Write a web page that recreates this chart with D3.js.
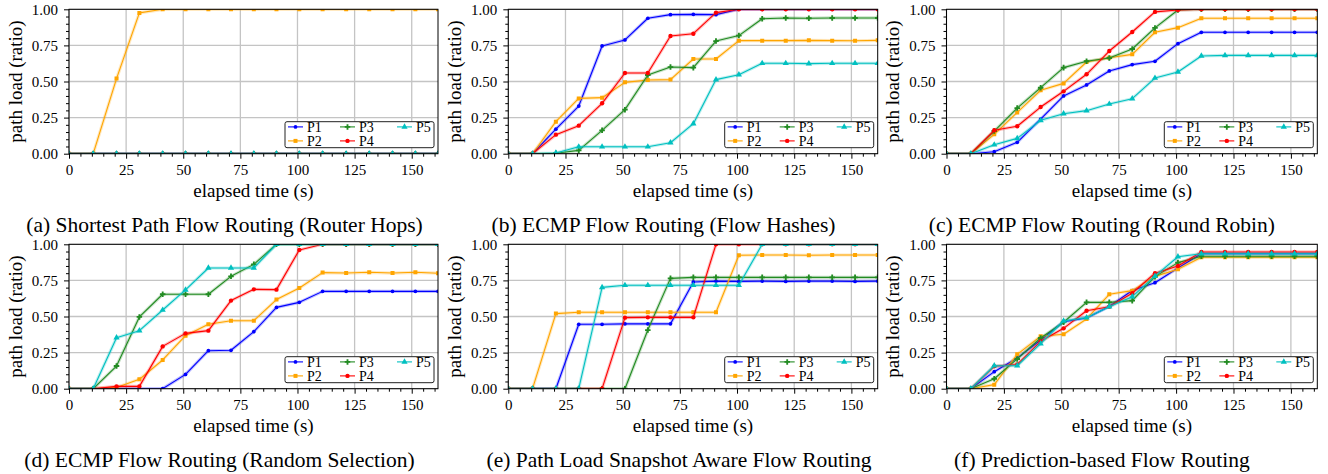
<!DOCTYPE html>
<html><head><meta charset="utf-8">
<script src="https://cdn.jsdelivr.net/npm/d3@7"></script>
<style>
body{margin:0;background:#fff}
svg{display:block}
</style>
</head><body>
<svg id="c" width="1328" height="474"></svg>
<script>
// ---------------- data ----------------
const times = [0, 10.6, 20.8, 30.8, 41.0, 51.0, 61.0, 70.9, 80.9, 90.8, 100.8, 111.0, 121.3, 131.4, 141.6, 151.6, 161.5];
const xTicks = [0, 25, 50, 75, 100, 125, 150];
const yTicks = [0, 0.25, 0.5, 0.75, 1];
const seriesNames = ["P1", "P2", "P3", "P4", "P5"];
const captions = [
  "(a) Shortest Path Flow Routing (Router Hops)",
  "(b) ECMP Flow Routing (Flow Hashes)",
  "(c) ECMP Flow Routing (Round Robin)",
  "(d) ECMP Flow Routing (Random Selection)",
  "(e) Path Load Snapshot Aware Flow Routing",
  "(f) Prediction-based Flow Routing"
];
const xLabel = "elapsed time (s)";
const yLabel = "path load (ratio)";

const loadsA = [
  [0,0,0,0,0,0,0,0,0,0,0,0,0,0,0,0,0],
  [0,0,0.52,0.975,1,1,1,1,1,1,1,1,1,1,1,1,1],
  [0,0,0,0,0,0,0,0,0,0,0,0,0,0,0,0,0],
  [0,0,0,0,0,0,0,0,0,0,0,0,0,0,0,0,0],
  [0,0,0,0,0,0,0,0,0,0,0,0,0,0,0,0,0]
];
const loadsB = [
  [0,0,0.17,0.33,0.746,0.788,0.938,0.963,0.965,0.963,1,1,1,1,1,1,1],
  [0,0,0.222,0.383,0.388,0.494,0.51,0.513,0.656,0.656,0.783,0.783,0.783,0.785,0.783,0.782,0.785],
  [0,0,0.003,0.023,0.162,0.305,0.545,0.60,0.596,0.78,0.818,0.935,0.94,0.938,0.94,0.94,0.94],
  [0,0,0.132,0.194,0.349,0.559,0.559,0.815,0.831,0.977,1,1,1,1,1,1,1],
  [0,0,0.005,0.048,0.048,0.048,0.048,0.076,0.208,0.513,0.547,0.626,0.626,0.624,0.626,0.626,0.626]
];
const loadsC = [
  [0,0,0.014,0.079,0.24,0.40,0.476,0.573,0.617,0.64,0.762,0.841,0.841,0.841,0.841,0.841,0.841],
  [0,0,0.134,0.286,0.439,0.487,0.635,0.665,0.688,0.841,0.873,0.938,0.938,0.938,0.938,0.938,0.938],
  [0,0,0.157,0.316,0.457,0.596,0.64,0.663,0.725,0.871,0.995,1,1,1,1,1,1],
  [0,0,0.162,0.19,0.323,0.432,0.55,0.711,0.843,0.982,0.995,1,1,1,1,1,1],
  [0,0,0.062,0.106,0.231,0.277,0.298,0.344,0.381,0.524,0.566,0.677,0.681,0.681,0.681,0.681,0.681]
];
const loadsD = [
  [0,0,0,0,0,0.099,0.263,0.266,0.395,0.563,0.598,0.674,0.674,0.674,0.674,0.674,0.674],
  [0,0,0.009,0.065,0.199,0.367,0.446,0.471,0.471,0.617,0.697,0.804,0.801,0.806,0.801,0.806,0.80],
  [0,0,0.157,0.497,0.654,0.654,0.654,0.778,0.861,1,1,1,1,1,1,1,1],
  [0,0,0.016,0.016,0.293,0.383,0.402,0.61,0.688,0.686,0.961,1,1,1,1,1,1],
  [0,0,0.353,0.402,0.545,0.684,0.836,0.836,0.836,1,1,1,1,1,1,1,1]
];
const loadsE = [
  [0,0,0,0.446,0.446,0.449,0.449,0.449,0.739,0.745,0.743,0.745,0.743,0.745,0.745,0.743,0.745],
  [0,0,0.52,0.529,0.529,0.529,0.529,0.529,0.529,0.529,0.924,0.926,0.926,0.924,0.926,0.926,0.926],
  [0,0,0,0,0,0,0.406,0.764,0.771,0.771,0.771,0.771,0.771,0.771,0.771,0.771,0.771],
  [0,0,0,0,0,0.492,0.494,0.494,0.494,1,1,1,1,1,1,1,1],
  [0,0,0,0,0.702,0.716,0.716,0.716,0.716,0.716,0.716,1,1,1,1,1,1]
];
const loadsF = [
  [0,0,0.118,0.212,0.337,0.464,0.49,0.57,0.68,0.734,0.836,0.935,0.935,0.935,0.935,0.935,0.935],
  [0,0,0.028,0.238,0.363,0.377,0.483,0.654,0.679,0.778,0.827,0.91,0.91,0.91,0.91,0.91,0.91],
  [0,0,0.069,0.206,0.351,0.46,0.598,0.598,0.61,0.776,0.873,0.917,0.917,0.917,0.917,0.917,0.917],
  [0,0,0.155,0.168,0.328,0.418,0.54,0.568,0.661,0.80,0.85,0.947,0.947,0.947,0.947,0.947,0.947],
  [0,0,0.159,0.159,0.312,0.469,0.492,0.568,0.637,0.78,0.914,0.935,0.935,0.935,0.935,0.935,0.935]
];
const panelLoads = [loadsA, loadsB, loadsC, loadsD, loadsE, loadsF];

// ---------------- styles / layout ----------------
const FONT = "'Liberation Serif'";
const colors = ["#0000ff", "#ffa500", "#228b22", "#ff0000", "#00c0c0"];
const markerTypes = [d3.symbolCircle, d3.symbolSquare, d3.symbolCross, d3.symbolCircle, d3.symbolTriangle];
const markerSizes = [11, 16, 17, 15, 17];
const colLeft = [69, 508.3, 946.5];
const colRight = [438, 877.7, 1317.3];
const rowTop = [9.3, 244.3];
const rowBottom = [153.7, 388.7];
const captionDx = [-29, -29.5, -30, -34, -14, -30];
const xMax = 161.5;

const svg = d3.select("#c").style("font-family", FONT);
const xMinor = d3.range(0, 161, 5).filter(v => v % 25 !== 0);
const yMinor = d3.range(0, 1.001, 0.05).map(v => +v.toFixed(2)).filter(v => Math.round(v * 100) % 25 !== 0);

function txt(sel, size) {
  return sel.style("font-family", FONT).style("font-size", size + "px").style("font-weight", "normal").style("fill", "#000");
}

panelLoads.forEach((loads, pi) => {
  const col = pi % 3, row = Math.floor(pi / 3);
  const L = colLeft[col], R = colRight[col], T = rowTop[row], B = rowBottom[row];
  const x = d3.scaleLinear().domain([0, xMax]).range([L, R]);
  const y = d3.scaleLinear().domain([0, 1]).range([B, T]);
  const g = svg.append("g");

  const clipId = "clip" + pi;
  svg.append("clipPath").attr("id", clipId)
    .append("rect").attr("x", L).attr("y", T).attr("width", R - L).attr("height", B - T);

  // grid
  const grid = g.append("g").attr("stroke", "#c4c4c4").attr("stroke-width", 1.3);
  grid.selectAll(".vx").data(xTicks).join("line")
    .attr("x1", d => x(d)).attr("x2", d => x(d)).attr("y1", T).attr("y2", B);
  grid.selectAll(".hy").data(yTicks).join("line")
    .attr("x1", L).attr("x2", R).attr("y1", d => y(d)).attr("y2", d => y(d));

  // data
  const plot = g.append("g").attr("clip-path", `url(#${clipId})`);
  const lineGen = d3.line().x((d, i) => x(times[i])).y(d => y(d));
  loads.forEach((vals, si) => {
    plot.append("path").datum(vals).attr("d", lineGen)
      .attr("fill", "none").attr("stroke", colors[si]).attr("stroke-opacity", 0.25)
      .attr("stroke-width", 3.2).attr("stroke-linejoin", "round");
    plot.append("path").datum(vals).attr("d", lineGen)
      .attr("fill", "none").attr("stroke", colors[si]).attr("stroke-width", 1.1)
      .attr("stroke-linejoin", "round");
    plot.selectAll(null).data(vals).join("path")
      .attr("transform", (d, i) => `translate(${x(times[i])},${y(d)})`)
      .attr("d", d3.symbol().type(markerTypes[si]).size(markerSizes[si]))
      .attr("fill", colors[si]);
  });

  // axes
  const ax = g.append("g").attr("transform", `translate(0,${B})`)
    .call(d3.axisBottom(x).tickValues(xTicks).tickSize(5).tickPadding(6).tickFormat(d3.format("d")));
  const axm = g.append("g").attr("transform", `translate(0,${B})`)
    .call(d3.axisBottom(x).tickValues(xMinor).tickSize(3).tickFormat(""));
  const ay = g.append("g").attr("transform", `translate(${L},0)`)
    .call(d3.axisLeft(y).tickValues(yTicks).tickSize(5).tickPadding(6).tickFormat(d3.format(".2f")));
  const aym = g.append("g").attr("transform", `translate(${L},0)`)
    .call(d3.axisLeft(y).tickValues(yMinor).tickSize(3).tickFormat(""));
  [ax, axm, ay, aym].forEach(a => {
    a.attr("font-family", null).attr("font-size", null);
    a.select(".domain").remove();
    a.selectAll("line").attr("stroke", "#000").attr("stroke-width", 1);
    txt(a.selectAll("text"), 15);
  });

  // frame
  g.append("rect").attr("x", L).attr("y", T).attr("width", R - L).attr("height", B - T)
    .attr("fill", "none").attr("stroke", "#000").attr("stroke-width", 1);

  // labels
  txt(g.append("text").attr("x", (L + R) / 2).attr("y", B + 43).attr("text-anchor", "middle"), 19).text(xLabel);
  txt(g.append("text").attr("transform", `translate(${L - 47.5},${(T + B) / 2}) rotate(-90)`)
    .attr("text-anchor", "middle"), 19).text(yLabel);
  txt(g.append("text").attr("x", (L + R) / 2 + captionDx[pi]).attr("y", B + 78.3)
    .attr("text-anchor", "middle"), 21.5).text(captions[pi]);

  // legend
  const lw = 149, lh = 26;
  const lx = R - 4 - lw, ly = B - 6 - lh;
  const lg = g.append("g").attr("transform", `translate(${lx},${ly})`);
  lg.append("rect").attr("width", lw).attr("height", lh).attr("rx", 2)
    .attr("fill", "#fff").attr("stroke", "#222").attr("stroke-width", 1);
  const colX = [3, 55, 112], rowY = [5.2, 19.2];
  seriesNames.forEach((name, si) => {
    const c = Math.floor(si / 2), r = si % 2;
    const e = lg.append("g").attr("transform", `translate(${colX[c]},${rowY[r]})`);
    e.append("line").attr("x1", 0).attr("x2", 15).attr("stroke", colors[si]).attr("stroke-width", 1.1);
    e.append("path").attr("transform", "translate(7.5,0)")
      .attr("d", d3.symbol().type(markerTypes[si]).size(markerSizes[si])).attr("fill", colors[si]);
    txt(e.append("text").attr("x", 19).attr("y", 4.8), 14).text(name);
  });
});
</script>
</body></html>
